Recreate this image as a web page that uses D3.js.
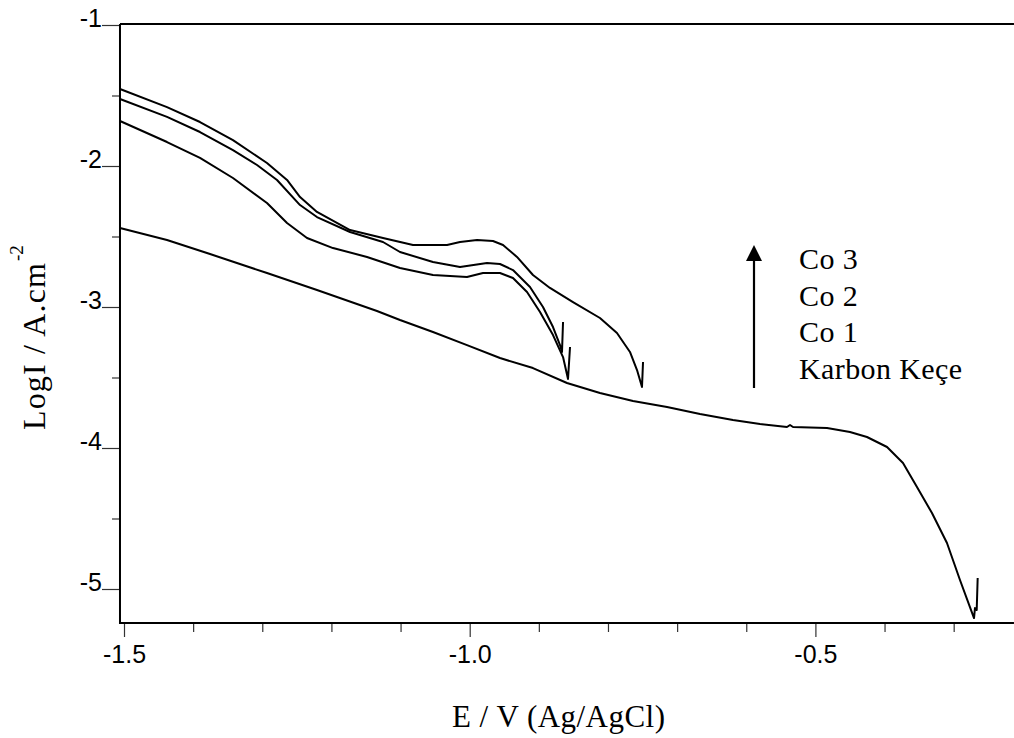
<!DOCTYPE html>
<html>
<head>
<meta charset="utf-8">
<script src="https://cdn.jsdelivr.net/npm/d3@7/dist/d3.min.js"></script>
<style>
  html, body { margin: 0; padding: 0; background: #fff; }
  svg { display: block; }
</style>
</head>
<body>
<svg id="chart" width="1014" height="738"></svg>
<script>
// Tafel polarisation curves: potential E (V vs Ag/AgCl) and log current density

// Karbon Keçe (bare carbon felt)
const carbonE = [-1.5058, -1.4378, -1.3756, -1.2932, -1.2209, -1.1341, -1.1008, -1.0531, -1.0039, -0.9562,
  -0.9085, -0.8593, -0.8116, -0.7638, -0.7146, -0.6669, -0.6192, -0.5801, -0.5411, -0.5367, -0.5324,
  -0.4832, -0.4500, -0.4254, -0.3964, -0.3733, -0.3531, -0.3314, -0.3097, -0.2909, -0.2706, -0.2692,
  -0.2667, -0.2653];
const carbonLogI = [-2.440, -2.525, -2.624, -2.759, -2.879, -3.028, -3.092, -3.177, -3.270, -3.362,
  -3.433, -3.539, -3.610, -3.667, -3.709, -3.759, -3.801, -3.830, -3.851, -3.837, -3.851,
  -3.858, -3.887, -3.922, -3.993, -4.106, -4.277, -4.461, -4.674, -4.936, -5.206, -5.135,
  -5.149, -4.922];

// Co 1
const co1E = [-1.5058, -1.4378, -1.3901, -1.3424, -1.2932, -1.2642, -1.2353, -1.1977, -1.1485, -1.1008,
  -1.0531, -1.0039, -0.9808, -0.9562, -0.9374, -0.9171, -0.8983, -0.8795, -0.8650, -0.8578, -0.8549];
const co1LogI = [-1.681, -1.830, -1.943, -2.085, -2.262, -2.404, -2.511, -2.582, -2.645, -2.723,
  -2.773, -2.787, -2.759, -2.759, -2.794, -2.894, -3.035, -3.199, -3.355, -3.511, -3.284];

// Co 2
const co2E = [-1.5058, -1.4378, -1.3901, -1.3424, -1.3076, -1.2787, -1.2454, -1.2209, -1.1731, -1.1254,
  -1.1008, -1.0531, -1.0140, -0.9750, -0.9562, -0.9374, -0.9128, -0.8940, -0.8795, -0.8694, -0.8665, -0.8650];
const co2LogI = [-1.525, -1.652, -1.759, -1.887, -1.993, -2.099, -2.277, -2.362, -2.468, -2.539,
  -2.610, -2.681, -2.716, -2.688, -2.695, -2.738, -2.858, -3.000, -3.142, -3.270, -3.319, -3.106];

// Co 3
const co3E = [-1.5058, -1.4378, -1.3901, -1.3424, -1.2932, -1.2642, -1.2454, -1.2209, -1.1731, -1.1254,
  -1.0820, -1.0328, -1.0140, -0.9894, -0.9663, -0.9518, -0.9316, -0.9085, -0.8839, -0.8506, -0.8116,
  -0.7870, -0.7682, -0.7580, -0.7508, -0.7493];
const co3LogI = [-1.454, -1.582, -1.688, -1.816, -1.979, -2.099, -2.220, -2.326, -2.454, -2.511,
  -2.560, -2.560, -2.539, -2.525, -2.532, -2.560, -2.645, -2.773, -2.865, -2.965, -3.078,
  -3.184, -3.319, -3.447, -3.567, -3.390];

// Axis ticks and legend entries
const xMajorTicks = [-1.5, -1.0, -0.5];
const xMinorTicks = [-1.4, -1.3, -1.2, -1.1, -0.9, -0.8, -0.7, -0.6, -0.4, -0.3];
const yMajorTicks = [-1, -2, -3, -4, -5];
const yMinorTicks = [-1.5, -2.5, -3.5, -4.5];
const legendLabels = ["Co 3", "Co 2", "Co 1", "Karbon Keçe"];

const svg = d3.select("#chart");
svg.append("rect").attr("width", 1014).attr("height", 738).attr("fill", "#fff");

// Scales
const x = d3.scaleLinear().domain([-1.5, -0.5]).range([124, 815.4]);
const y = d3.scaleLinear().domain([-1, -5]).range([25, 589]);
const xLo = -1.5058, xHi = -0.2128;
const yHi = -0.993, yLo = -5.241;
const plotLeft = x(xLo), plotRight = x(xHi), plotTop = y(yHi), plotBottom = y(yLo);

const sans = "'Liberation Sans', Arial, sans-serif";
const serif = "'Liberation Serif', 'Times New Roman', serif";

// Y axis: labelled integer ticks and half-decade minor ticks
const yAxisMajor = d3.axisLeft(y).tickValues(yMajorTicks).tickSize(18).tickPadding(0)
  .tickFormat(d => d.toFixed(0));
const gy = svg.append("g").attr("transform", `translate(${plotLeft},0)`).call(yAxisMajor);
gy.select(".domain").remove();
gy.selectAll("line").attr("stroke", "#333").attr("stroke-width", 1.2);
gy.selectAll("text").attr("dy", "0.04em").attr("fill", "#000")
  .style("font-family", sans).style("font-size", "25px");

const gyMinor = svg.append("g").attr("transform", `translate(${plotLeft},0)`)
  .call(d3.axisLeft(y).tickValues(yMinorTicks).tickSize(8).tickFormat(""));
gyMinor.select(".domain").remove();
gyMinor.selectAll("line").attr("stroke", "#333").attr("stroke-width", 1.2);

// X axis
const xAxisMajor = d3.axisBottom(x).tickValues(xMajorTicks).tickSize(14).tickPadding(8)
  .tickFormat(d => d.toFixed(1));
const gx = svg.append("g").attr("transform", `translate(0,${plotBottom})`).call(xAxisMajor);
gx.select(".domain").remove();
gx.selectAll("line").attr("stroke", "#333").attr("stroke-width", 1.2);
gx.selectAll("text").attr("fill", "#000")
  .style("font-family", sans).style("font-size", "25px");

const gxMinor = svg.append("g").attr("transform", `translate(0,${plotBottom})`)
  .call(d3.axisBottom(x).tickValues(xMinorTicks).tickSize(9).tickFormat(""));
gxMinor.select(".domain").remove();
gxMinor.selectAll("line").attr("stroke", "#333").attr("stroke-width", 1.2);

// Frame: left axis, bottom axis and top border
const frame = svg.append("g").attr("stroke", "#000").attr("stroke-width", 2).attr("fill", "none");
frame.append("line").attr("x1", plotLeft).attr("x2", plotLeft).attr("y1", plotTop).attr("y2", plotBottom + 1);
frame.append("line").attr("x1", plotLeft).attr("x2", plotRight).attr("y1", plotBottom).attr("y2", plotBottom);
frame.append("line").attr("x1", plotLeft).attr("x2", plotRight).attr("y1", plotTop).attr("y2", plotTop);

// Curves
const line = d3.line().x(d => x(d[0])).y(d => y(d[1])).curve(d3.curveLinear);
const series = [
  d3.zip(carbonE, carbonLogI),
  d3.zip(co1E, co1LogI),
  d3.zip(co2E, co2LogI),
  d3.zip(co3E, co3LogI)
];
svg.append("g").selectAll("path").data(series).join("path")
  .attr("d", line)
  .attr("fill", "none")
  .attr("stroke", "#000")
  .attr("stroke-width", 2)
  .attr("stroke-linejoin", "round");

// Legend: arrow pointing from the bare felt up to the highest cobalt loading
const legend = svg.append("g");
legend.append("line").attr("x1", 754).attr("x2", 754).attr("y1", 388).attr("y2", 258)
  .attr("stroke", "#000").attr("stroke-width", 2.2);
legend.append("path").attr("d", "M754,245 L762,261 L746,261 Z").attr("fill", "#000");
legend.selectAll("text").data(legendLabels).join("text")
  .attr("x", 799)
  .attr("y", (d, i) => 269 + i * 36.5)
  .text(d => d)
  .style("font-family", serif)
  .style("font-size", "30px")
  .style("letter-spacing", "0.4px")
  .attr("fill", "#000");

// Axis titles
svg.append("text")
  .attr("x", 452).attr("y", 727)
  .attr("textLength", 213).attr("lengthAdjust", "spacing")
  .style("font-family", serif)
  .style("font-size", "31px")
  .attr("fill", "#000")
  .text("E / V (Ag/AgCl)");

const yTitle = svg.append("g").attr("transform", "translate(45,430) rotate(-90)");
yTitle.append("text")
  .attr("x", 0).attr("y", 0)
  .attr("textLength", 167).attr("lengthAdjust", "spacing")
  .style("font-family", serif)
  .style("font-size", "32px")
  .attr("fill", "#000")
  .text("LogI / A.cm");
yTitle.append("text")
  .attr("x", 169).attr("y", -22)
  .style("font-family", serif)
  .style("font-size", "19px")
  .attr("fill", "#000")
  .text("-2");
</script>
</body>
</html>
